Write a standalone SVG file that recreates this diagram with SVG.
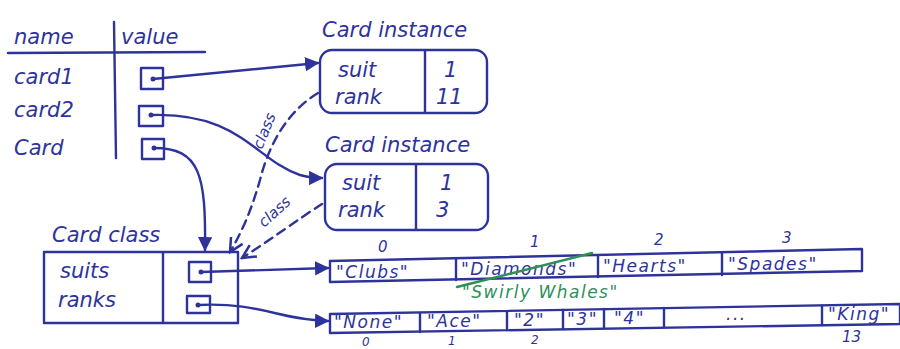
<svg xmlns="http://www.w3.org/2000/svg" width="900" height="349" viewBox="0 0 900 349">
<defs>
<style>
.ink{fill:none;stroke:#2e339c;stroke-width:2.4;stroke-linecap:round;stroke-linejoin:round}
.t{font-family:"DejaVu Sans","Liberation Sans",sans-serif;font-style:italic;fill:#2e339c}
.lbl{font-size:21px}
.arr{font-size:17px;letter-spacing:1.5px}
.idx{font-size:15px}
.dash{stroke-dasharray:9 6}
.dot{fill:#2e339c}
.green{fill:#2f8f5a}
</style>
<marker id="ah" viewBox="0 0 10 10" refX="9" refY="5" markerWidth="6" markerHeight="6" orient="auto-start-reverse">
<path d="M0,0 L10,5 L0,10 z" fill="#2e339c"/>
</marker>
<marker id="ao" viewBox="0 0 10 10" refX="9" refY="5" markerWidth="7" markerHeight="7" orient="auto">
<path d="M1,1 L9,5 L1,9" fill="none" stroke="#2e339c" stroke-width="1.5"/>
</marker>
</defs>
<rect width="900" height="349" fill="#ffffff"/>

<g id="frame">
<text class="t lbl" x="14" y="44">name</text>
<text class="t lbl" x="121" y="44">value</text>
<line class="ink" x1="8" y1="53" x2="205" y2="52"/>
<line class="ink" x1="114" y1="22" x2="116" y2="158"/>
<text class="t lbl" x="14" y="84">card1</text>
<text class="t lbl" x="14" y="117">card2</text>
<text class="t lbl" x="14" y="155">Card</text>
<rect class="ink" x="141" y="68" width="22" height="21"/>
<circle class="dot" cx="153" cy="79" r="2.5"/>
<rect class="ink" x="139" y="106" width="24" height="20"/>
<circle class="dot" cx="151" cy="115" r="2.5"/>
<rect class="ink" x="142" y="139" width="22" height="20"/>
<circle class="dot" cx="154" cy="148" r="2.5"/>
</g>

<g id="card-instance-1">
<text class="t lbl" x="322" y="37">Card instance</text>
<rect class="ink" x="320" y="50" width="167" height="63" rx="12"/>
<line class="ink" x1="425" y1="51" x2="425" y2="112"/>
<text class="t lbl" x="338" y="77">suit</text>
<text class="t lbl" x="444" y="77">1</text>
<text class="t lbl" x="335" y="104">rank</text>
<text class="t lbl" x="436" y="104">11</text>
</g>

<g id="card-instance-2">
<text class="t lbl" x="325" y="152">Card instance</text>
<rect class="ink" x="325" y="164" width="163" height="66" rx="12"/>
<line class="ink" x1="416" y1="165" x2="416" y2="229"/>
<text class="t lbl" x="342" y="190">suit</text>
<text class="t lbl" x="440" y="190">1</text>
<text class="t lbl" x="338" y="217">rank</text>
<text class="t lbl" x="436" y="217">3</text>
</g>

<g id="card-class">
<text class="t lbl" x="52" y="242">Card class</text>
<rect class="ink" x="44" y="252" width="194" height="71"/>
<line class="ink" x1="163" y1="253" x2="163" y2="322"/>
<text class="t lbl" x="60" y="278">suits</text>
<text class="t lbl" x="58" y="307">ranks</text>
<rect class="ink" x="189" y="262" width="22" height="20"/>
<circle class="dot" cx="201" cy="272" r="2.5"/>
<rect class="ink" x="187" y="296" width="23" height="17"/>
<circle class="dot" cx="198" cy="305" r="2.5"/>
</g>

<g id="suits-list">
<polygon class="ink" points="330,261 862,249 862,271 330,282"/>
<line class="ink" x1="456" y1="259" x2="456" y2="280"/>
<line class="ink" x1="598" y1="256" x2="598" y2="277"/>
<line class="ink" x1="722" y1="253" x2="722" y2="275"/>
<text class="t idx" x="378" y="252">0</text>
<text class="t idx" x="530" y="247">1</text>
<text class="t idx" x="654" y="245">2</text>
<text class="t idx" x="782" y="243">3</text>
<text class="t arr" x="336" y="278">"Clubs"</text>
<text class="t arr" x="461" y="275">"Diamonds"</text>
<text class="t arr" x="603" y="272">"Hearts"</text>
<text class="t arr" x="728" y="270">"Spades"</text>
<line x1="457" y1="287" x2="592" y2="253" stroke="#2f8f5a" stroke-width="2.4" stroke-linecap="round"/>
<text class="t arr green" x="462" y="298">"Swirly Whales"</text>
</g>

<g id="ranks-list">
<polygon class="ink" points="330,314 900,304 900,324 330,333"/>
<line class="ink" x1="420" y1="313" x2="420" y2="332"/>
<line class="ink" x1="507" y1="311" x2="507" y2="330"/>
<line class="ink" x1="563" y1="310" x2="563" y2="329"/>
<line class="ink" x1="604" y1="309" x2="604" y2="328"/>
<line class="ink" x1="664" y1="308" x2="664" y2="327"/>
<line class="ink" x1="822" y1="306" x2="822" y2="325"/>
<text class="t arr" x="334" y="328" letter-spacing="1">"None"</text>
<text class="t arr" x="427" y="327" letter-spacing="1">"Ace"</text>
<text class="t arr" x="514" y="326" letter-spacing="1">"2"</text>
<text class="t arr" x="567" y="325" letter-spacing="0">"3"</text>
<text class="t arr" x="614" y="324" letter-spacing="1">"4"</text>
<text class="t arr" x="726" y="320">...</text>
<text class="t arr" x="828" y="320" letter-spacing="1">"King"</text>
<text class="t" font-size="12" x="362" y="346">0</text>
<text class="t" font-size="12" x="448" y="345">1</text>
<text class="t" font-size="12" x="531" y="344">2</text>
<text class="t idx" x="842" y="342">13</text>
</g>

<g id="connectors">
<path class="ink" d="M153,79 L318,63" marker-end="url(#ah)"/>
<path class="ink" d="M151,115 C240,112 255,160 300,175 C310,178 315,178 322,178" marker-end="url(#ah)"/>
<path class="ink" d="M154,148 C200,148 206,175 205,250" marker-end="url(#ah)"/>
<path class="ink dash" d="M318,93 C290,110 270,140 260,180 C250,215 240,235 230,252" marker-end="url(#ao)"/>
<path class="ink dash" d="M322,204 C300,218 270,240 242,258" marker-end="url(#ao)"/>
<text class="t" font-size="15" transform="translate(262,150) rotate(-68)">class</text>
<text class="t" font-size="15" transform="translate(264,228) rotate(-42)">class</text>
<path class="ink" d="M201,272 L328,268" marker-end="url(#ah)"/>
<path class="ink" d="M198,305 C260,302 280,320 328,321" marker-end="url(#ah)"/>
</g>
</svg>
